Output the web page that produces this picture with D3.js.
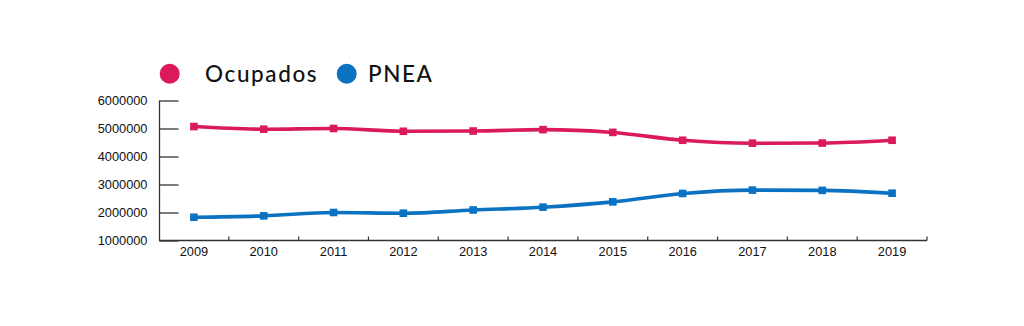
<!DOCTYPE html>
<html><head><meta charset="utf-8">
<script src="https://cdn.jsdelivr.net/npm/d3@7"></script>
<style>body{margin:0;background:#fff}svg{display:block}</style>
</head><body>
<svg id="c" width="1024" height="326"></svg>
<script>
const years = ["2009","2010","2011","2012","2013","2014","2015","2016","2017","2018","2019"];
const ocupados = [5070000,4975000,5000000,4900000,4910000,4960000,4860000,4580000,4475000,4480000,4580000];
const pnea = [1830000,1880000,2000000,1975000,2090000,2190000,2380000,2680000,2800000,2790000,2690000];
const yTicks = [1000000,2000000,3000000,4000000,5000000,6000000];
const seriesNames = ["Ocupados","PNEA"];
const colors = ["#da1a5c","#0b72c2"];

const svg = d3.select("#c");
const x = d3.scaleBand().domain(years).range([159, 927]);
const y = d3.scaleLinear().domain([1000000, 6000000]).range([240.5, 100.5]);

// y axis
const yAxis = svg.append("g").attr("transform","translate(159.5,0)")
  .call(d3.axisRight(y).tickValues(yTicks).tickSize(19).tickFormat(d3.format("d")));
yAxis.select(".domain").attr("d","M0,100.5V240.5").attr("stroke","#333").attr("stroke-width",1.3);
yAxis.selectAll(".tick line").attr("stroke","#333").attr("stroke-width",1.3);
yAxis.selectAll(".tick text").attr("x",-12).attr("text-anchor","end")
  .attr("font-family","Liberation Sans, Arial, sans-serif").attr("font-size",12.8).attr("fill","#111");

// x axis
const xAxis = svg.append("g").attr("transform","translate(0,240.5)")
  .call(d3.axisBottom(x).tickSize(0));
xAxis.select(".domain").attr("d","M159,0H927").attr("stroke","#333").attr("stroke-width",1.3);
xAxis.selectAll(".tick text").attr("dy",0).attr("y",15.5)
  .attr("font-family","Liberation Sans, Arial, sans-serif").attr("font-size",12.8).attr("fill","#111");
// boundary ticks (inside)
const bounds = years.slice(1).map(d => x(d)).concat([927]);
xAxis.selectAll(".btick").data(bounds).join("line").attr("class","btick")
  .attr("x1",d=>d).attr("x2",d=>d).attr("y1",0).attr("y2",-4)
  .attr("stroke","#333").attr("stroke-width",1.2);

const cx = d => x(d) + x.bandwidth()/2;
const line = d3.line().x((d,i)=>cx(years[i])).y(d=>y(d)).curve(d3.curveMonotoneX);

[ocupados, pnea].forEach((vals, si) => {
  svg.append("path").datum(vals).attr("d", line).attr("fill","none")
    .attr("stroke", colors[si]).attr("stroke-width",3.6).attr("stroke-linejoin","round");
  svg.selectAll(".m"+si).data(vals).join("rect").attr("class","m"+si)
    .attr("x",(d,i)=>cx(years[i])-3.8).attr("y",d=>y(d)-3.8)
    .attr("width",7.6).attr("height",7.6).attr("fill",colors[si]);
});

// legend
const legX = [169.7, 346.7];
const legTX = [205, 368];
seriesNames.forEach((n,i)=>{
  svg.append("circle").attr("cx",legX[i]).attr("cy",73.7).attr("r",10).attr("fill",colors[i]);
  svg.append("text").attr("x",legTX[i]).attr("y",81.7).text(n)
    .attr("font-family","Lato, 'Noto Sans', sans-serif").attr("font-size",22.5).attr("font-weight",500)
    .attr("fill","#111").attr("letter-spacing",1.6);
});
</script>
</body></html>
